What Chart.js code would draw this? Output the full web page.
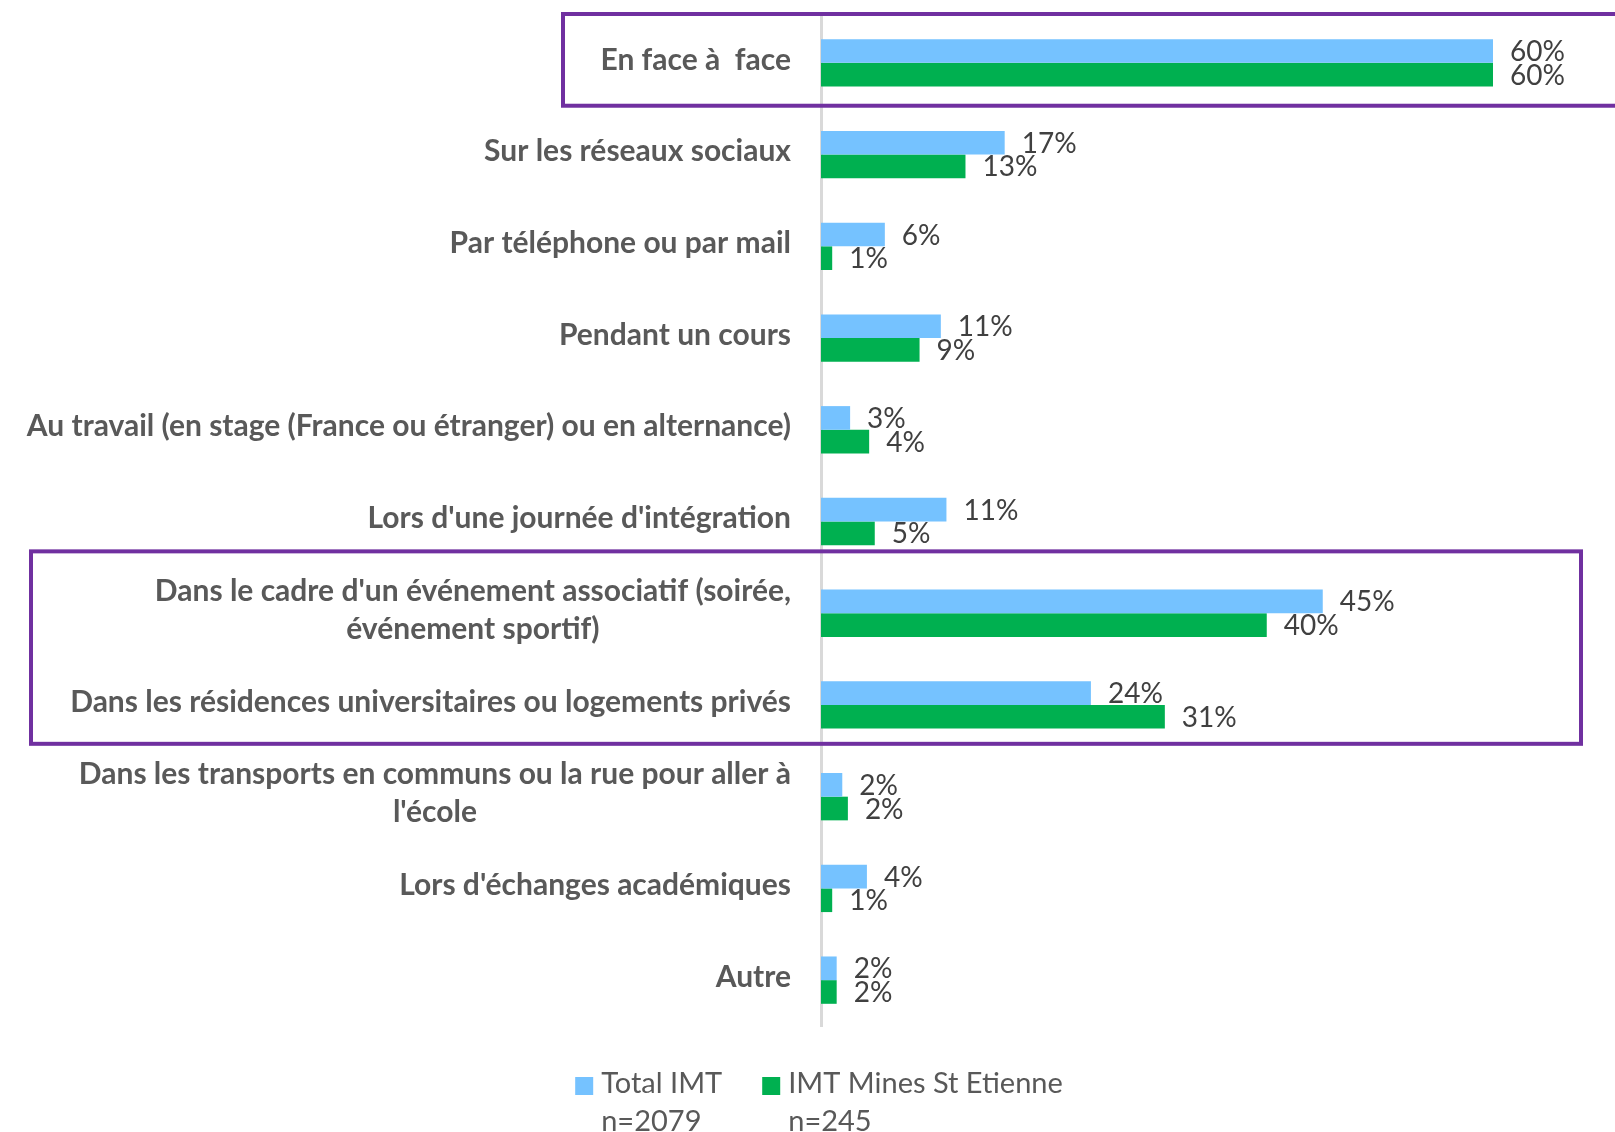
<!doctype html>
<html>
<head>
<meta charset="utf-8">
<title>Lieux de rencontre</title>
<script src="https://cdn.jsdelivr.net/npm/chart.js@4.4.1/dist/chart.umd.min.js"></script>
<style>
  body { margin: 0; background: #fff; }
  #holder { width: 1615px; height: 1132px; }
</style>
</head>
<body>
<div id="holder">
  <canvas id="chart-area" width="1615" height="1132"></canvas>
</div>
<script>
  var categories = [
    'En face à  face',
    'Sur les réseaux sociaux',
    'Par téléphone ou par mail',
    'Pendant un cours',
    'Au travail (en stage (France ou étranger) ou en alternance)',
    "Lors d'une journée d'intégration",
    ["Dans le cadre d'un événement associatif (soirée,", 'événement sportif)'],
    'Dans les résidences universitaires ou logements privés',
    ['Dans les transports en communs ou la rue pour aller à', "l'école"],
    "Lors d'échanges académiques",
    'Autre'
  ];
  // bar lengths
  var totalImt = [60, 16.4, 5.7, 10.7, 2.6, 11.2, 44.8, 24.1, 1.9, 4.1, 1.4];
  var minesStEtienne = [60, 12.9, 1, 8.8, 4.3, 4.8, 39.8, 30.7, 2.4, 1, 1.4];
  // percentages printed next to the bars
  var totalImtLabels = [60, 17, 6, 11, 3, 11, 45, 24, 2, 4, 2];
  var minesStEtienneLabels = [60, 13, 1, 9, 4, 5, 40, 31, 2, 1, 2];
  var seriesNames = [['Total IMT', 'n=2079'], ['IMT Mines St Etienne', 'n=245']];
  var seriesColors = ['#75C2FF', '#00B050'];
  // highlighted groups of categories (first, last)
  var highlights = [[0, 0], [6, 7]];

  var labelFont = 'bold 30px Lato';
  var valueFont = '28px Lato';
  var legendFont = '29px Lato';

  // category labels on the left (multi-line ones centred in their block)
  var categoryLabels = {
    id: 'categoryLabels',
    afterDraw: function(chart) {
      var ctx = chart.ctx, y = chart.scales.y;
      var right = chart.chartArea.left - 30;
      ctx.save();
      ctx.font = labelFont;
      ctx.fillStyle = '#595959';
      ctx.textBaseline = 'middle';
      categories.forEach(function(c, i) {
        var cy = y.getPixelForValue(i) - 3;
        if (Array.isArray(c)) {
          var w = Math.max.apply(null, c.map(function(t) { return ctx.measureText(t).width; }));
          var lh = 38;
          ctx.textAlign = 'center';
          c.forEach(function(t, k) {
            ctx.fillText(t, right - w / 2, cy + (k - (c.length - 1) / 2) * lh);
          });
        } else {
          ctx.textAlign = 'right';
          ctx.fillText(c, right, cy);
        }
      });
      ctx.restore();
    }
  };

  // value labels at the end of each bar
  var valueLabels = {
    id: 'valueLabels',
    afterDatasetsDraw: function(chart) {
      var ctx = chart.ctx;
      var printed = [totalImtLabels, minesStEtienneLabels];
      ctx.save();
      ctx.font = valueFont;
      ctx.fillStyle = '#404040';
      ctx.textAlign = 'left';
      ctx.textBaseline = 'middle';
      chart.data.datasets.forEach(function(ds, d) {
        chart.getDatasetMeta(d).data.forEach(function(bar, i) {
          ctx.fillText(printed[d][i] + '%', bar.x + 17, bar.y + 1);
        });
      });
      ctx.restore();
    }
  };

  // purple frames around highlighted rows
  var frames = {
    id: 'frames',
    afterDraw: function(chart) {
      var ctx = chart.ctx, y = chart.scales.y;
      var band = y.getPixelForValue(1) - y.getPixelForValue(0);
      var boxes = [
        { x1: 563, x2: 1625, top: -3, bottom: -3 },
        { x1: 31, x2: 1581, top: -16, bottom: -7 }
      ];
      ctx.save();
      ctx.strokeStyle = '#7030A0';
      ctx.lineWidth = 4;
      highlights.forEach(function(h, k) {
        var b = boxes[k];
        var t = y.getPixelForValue(h[0]) - band / 2 + b.top;
        var bt = y.getPixelForValue(h[1]) + band / 2 + b.bottom;
        ctx.strokeRect(b.x1, t, b.x2 - b.x1, bt - t);
      });
      ctx.restore();
    }
  };

  // legend with two-line labels
  var twoLineLegend = {
    id: 'twoLineLegend',
    afterDraw: function(chart) {
      var ctx = chart.ctx;
      ctx.save();
      ctx.font = legendFont;
      var sq = 18, gapText = 8, gapItem = 40;
      var widths = seriesNames.map(function(n) { return sq + gapText + ctx.measureText(n[0]).width; });
      var total = widths[0] + gapItem + widths[1];
      var x = 819 - total / 2;
      var base = chart.chartArea.bottom + 67;
      ctx.textBaseline = 'alphabetic';
      ctx.textAlign = 'left';
      seriesNames.forEach(function(n, k) {
        ctx.fillStyle = seriesColors[k];
        ctx.fillRect(x, base - 16, sq, sq);
        ctx.fillStyle = '#595959';
        ctx.fillText(n[0], x + sq + gapText, base);
        ctx.fillText(n[1], x + sq + gapText, base + 38);
        x += widths[k] + gapItem;
      });
      ctx.restore();
    }
  };

  var config = {
    type: 'bar',
    data: {
      labels: categories,
      datasets: [{
        label: 'Total IMT',
        data: totalImt,
        backgroundColor: seriesColors[0],
        categoryPercentage: 0.516,
        barPercentage: 1
      }, {
        label: 'IMT Mines St Etienne',
        data: minesStEtienne,
        backgroundColor: seriesColors[1],
        categoryPercentage: 0.516,
        barPercentage: 1
      }]
    },
    options: {
      indexAxis: 'y',
      responsive: false,
      animation: false,
      layout: { padding: { top: 17, bottom: 106, right: 10, left: 0 } },
      plugins: {
        legend: { display: false },
        tooltip: { enabled: false }
      },
      scales: {
        x: {
          display: false,
          min: 0,
          max: 70
        },
        y: {
          ticks: { display: false },
          grid: { display: false },
          border: { display: true, color: '#D9D9D9', width: 3 },
          afterFit: function(s) { s.width = 821; }
        }
      }
    },
    plugins: [categoryLabels, valueLabels, frames, twoLineLegend]
  };

  window.onload = function() {
    var ctx = document.getElementById('chart-area').getContext('2d');
    window.myBar = new Chart(ctx, config);
  };
</script>
</body>
</html>
